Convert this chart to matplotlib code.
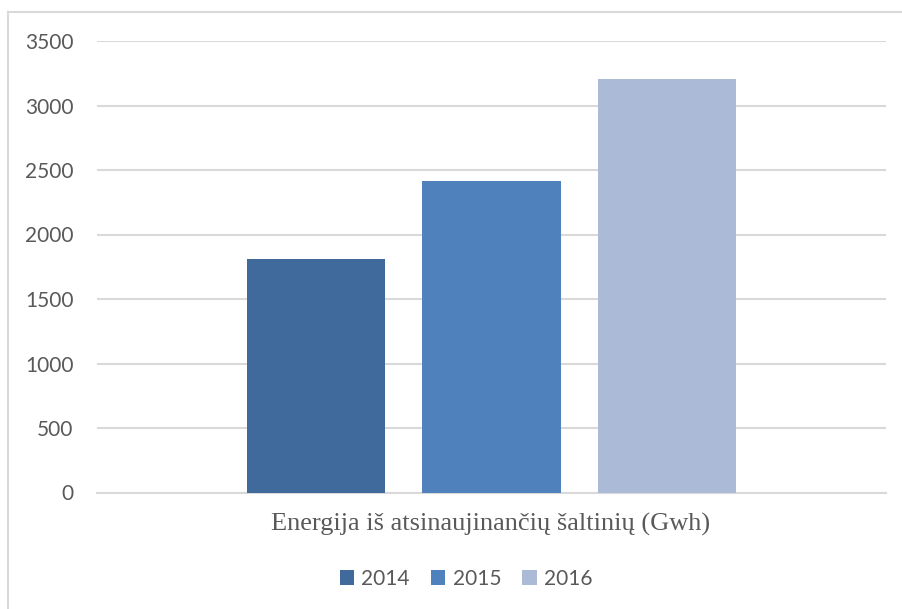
import matplotlib.pyplot as plt
from matplotlib.lines import Line2D
from matplotlib.patches import Patch

years = ["2014", "2015", "2016"]
values = [1810, 2415, 3205]
colors = ["#3F6A9B", "#4F81BD", "#AABAD7"]
category = "Energija iš atsinaujinančių šaltinių (Gwh)"
yticks = [0, 500, 1000, 1500, 2000, 2500, 3000, 3500]

txt = "#595959"
grid = "#D9D9D9"

fig = plt.figure(figsize=(9.02, 6.09), dpi=100)
ax = fig.add_axes([97/902, 1-492.5/609, 789/902, 451.5/609])

offsets = [-0.222, 0.0, 0.222]
for off, v, c in zip(offsets, values, colors):
    ax.bar(off, v, width=0.175, color=c, zorder=3)

ax.set_xlim(-0.5, 0.5)
ax.set_ylim(0, 3500)
ax.set_yticks(yticks)
ax.set_yticklabels([str(t) for t in yticks], fontsize=15, color=txt, family="Lato")
ax.set_xticks([])
ax.tick_params(axis="y", length=0, pad=17)
ax.grid(axis="y", color=grid, linewidth=1.5, zorder=0)
for s in ["top", "right", "left"]:
    ax.spines[s].set_visible(False)
ax.spines["bottom"].set_color(grid)
ax.spines["bottom"].set_linewidth(1.5)

fig.text(491/902, 1-524/609, category, ha="center", va="center",
         fontsize=19, color=txt, family="Liberation Serif")

handles = [Patch(facecolor=c, edgecolor="none") for c in colors]
fig.legend(handles, years, loc="center", bbox_to_anchor=(466/902, 1-579/609),
           ncol=3, frameon=False, handlelength=0.7, handleheight=0.7,
           handletextpad=0.35, columnspacing=1.0,
           prop={"family": "Lato", "size": 15}, labelcolor=txt)

# light frame around the chart area
fig.add_artist(Line2D([8/902, 1], [1-12/609, 1-12/609], color="#D9D9D9", lw=1.5))
fig.add_artist(Line2D([8/902, 8/902], [0, 1-12/609], color="#D9D9D9", lw=1.5))

fig.savefig("out.png", dpi=100)
